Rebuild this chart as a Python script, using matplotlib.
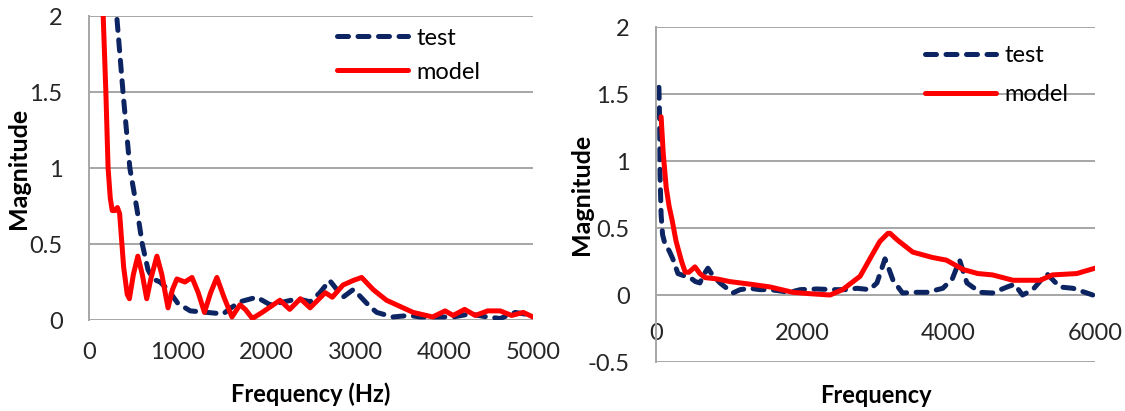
import matplotlib
matplotlib.use("Agg")
import matplotlib.pyplot as plt

# left panel: frequency (Hz) vs magnitude
left_test_f = [270, 383, 460, 540, 600, 665, 720, 800, 890, 1000, 1140, 1330, 1510, 1600,
               1700, 1890, 2040, 2200, 2350, 2490, 2600, 2710, 2860, 2975, 3030, 3160, 3240,
               3420, 3610, 3730, 3950, 4100, 4290, 4480, 4630, 4800, 5000]
left_test_m = [2.3, 1.5, 1.0, 0.73, 0.5, 0.33, 0.27, 0.25, 0.2, 0.11, 0.06, 0.05, 0.04, 0.08,
               0.12, 0.15, 0.1, 0.12, 0.14, 0.12, 0.18, 0.26, 0.15, 0.2, 0.17, 0.09, 0.05,
               0.02, 0.03, 0.02, 0.02, 0.02, 0.04, 0.02, 0.01, 0.05, 0.03]
left_model_f = [150, 160, 190, 215, 240, 262, 290, 320, 345, 390, 430, 455, 500, 550, 600,
                650, 700, 765, 820, 890, 940, 990, 1080, 1160, 1230, 1300, 1370, 1440, 1520,
                1610, 1700, 1760, 1840, 1950, 2050, 2150, 2260, 2380, 2490, 2660, 2740, 2860,
                2975, 3070, 3200, 3350, 3500, 3650, 3870, 4010, 4100, 4230, 4350, 4490, 4630,
                4760, 4890, 5000]
left_model_m = [2.3, 2.0, 1.5, 1.0, 0.8, 0.72, 0.72, 0.74, 0.7, 0.35, 0.17, 0.14, 0.3, 0.42,
                0.3, 0.14, 0.28, 0.42, 0.3, 0.08, 0.2, 0.27, 0.25, 0.28, 0.18, 0.05, 0.18,
                0.28, 0.15, 0.02, 0.1, 0.07, 0.01, 0.05, 0.09, 0.13, 0.07, 0.14, 0.08, 0.18,
                0.15, 0.23, 0.26, 0.28, 0.2, 0.13, 0.09, 0.05, 0.02, 0.06, 0.03, 0.07, 0.03,
                0.06, 0.06, 0.03, 0.05, 0.02]

# right panel
right_test_f = [40, 50, 55, 70, 90, 123, 180, 230, 300, 400, 465, 540, 600, 650, 710, 770,
                875, 1050, 1150, 1285, 1420, 1560, 1700, 1830, 1970, 2200, 2420, 2600, 2750,
                2920, 3020, 3130, 3180, 3240, 3370, 3550, 3700, 3920, 4050, 4150, 4250, 4430,
                4600, 4800, 4900, 5010, 5150, 5340, 5520, 5700, 5970]
right_test_m = [1.55, 1.3, 0.9, 0.6, 0.45, 0.38, 0.33, 0.27, 0.16, 0.14, 0.13, 0.1, 0.09,
                0.15, 0.2, 0.15, 0.09, 0.015, 0.04, 0.05, 0.04, 0.04, 0.03, 0.02, 0.04, 0.045,
                0.04, 0.04, 0.05, 0.04, 0.09, 0.27, 0.2, 0.11, 0.015, 0.02, 0.02, 0.05, 0.12,
                0.26, 0.09, 0.02, 0.015, 0.06, 0.08, 0.0, 0.04, 0.16, 0.06, 0.05, 0.0]
right_model_f = [70, 100, 140, 180, 220, 275, 350, 400, 450, 533, 600, 670, 833, 1010, 1300,
                 1560, 1870, 2100, 2380, 2550, 2790, 2965, 3060, 3170, 3200, 3300, 3510, 3780,
                 3970, 4200, 4400, 4600, 4880, 5250, 5420, 5750, 6000]
right_model_m = [1.33, 1.05, 0.8, 0.66, 0.56, 0.4, 0.25, 0.17, 0.17, 0.21, 0.16, 0.13, 0.12,
                 0.1, 0.08, 0.06, 0.02, 0.01, 0.0, 0.04, 0.14, 0.31, 0.4, 0.46, 0.46, 0.41,
                 0.32, 0.28, 0.26, 0.19, 0.16, 0.15, 0.11, 0.11, 0.15, 0.16, 0.2]

NAVY = "#0c2461"
RED = "#ff0000"
GRID = "#a6a6a6"
TXT = "#262626"

plt.rcParams["font.family"] = ["Lato", "DejaVu Sans"]

fig = plt.figure(figsize=(11.25, 4.11), dpi=100)
ax1 = fig.add_axes([0.0791, 0.2214, 0.3947, 0.7396])
ax2 = fig.add_axes([0.5831, 0.1192, 0.3902, 0.8151])


def style(ax, ylo, yhi, yticks, xmax, xticks, xpad):
    ax.set_xlim(0, xmax)
    ax.set_ylim(ylo, yhi)
    ax.set_yticks(yticks)
    ax.set_yticklabels([f"{t:g}" for t in yticks])
    ax.set_xticks(xticks)
    ax.set_xticklabels([str(t) for t in xticks])
    for y in yticks:
        ax.axhline(y, color=GRID, lw=1.4, zorder=0)
    for s in ["top", "right"]:
        ax.spines[s].set_visible(False)
    ax.spines["left"].set_color(GRID)
    ax.spines["left"].set_linewidth(1.4)
    ax.spines["bottom"].set_visible(False)
    ax.tick_params(length=0, labelsize=17, labelcolor=TXT)
    ax.tick_params(axis="y", pad=19)
    ax.tick_params(axis="x", pad=xpad)


line_kw_test = dict(color=NAVY, lw=3.6, ls=(0, (2.2, 1.9)), dash_capstyle="round", label="test")
line_kw_model = dict(color=RED, lw=3.6, solid_capstyle="round", label="model")
leg_kw = dict(loc="upper left", frameon=False, fontsize=17, handlelength=3.0,
              handletextpad=0.35, borderaxespad=0, borderpad=0)

# left
ax1.plot(left_test_f, left_test_m, **line_kw_test)
ax1.plot(left_model_f, left_model_m, **line_kw_model)
style(ax1, 0, 2, [0, 0.5, 1, 1.5, 2], 5000, [0, 1000, 2000, 3000, 4000, 5000], 16)
ax1.set_xlabel("Frequency (Hz)", fontsize=17, fontweight="bold", color="black")
ax1.set_ylabel("Magnitude", fontsize=18, fontweight="bold", color="black")
ax1.xaxis.set_label_coords(0.5, -0.205)
ax1.yaxis.set_label_coords(-0.133, 0.5)
ax1.legend(bbox_to_anchor=(0.559, 0.962), labelspacing=0.55, **leg_kw)

# right
ax2.plot(right_test_f, right_test_m, **line_kw_test)
ax2.plot(right_model_f, right_model_m, **line_kw_model)
style(ax2, -0.5, 2, [-0.5, 0, 0.5, 1, 1.5, 2], 6000, [0, 2000, 4000, 6000], 20)
ax2.spines["bottom"].set_position(("data", 0))
ax2.set_xlabel("Frequency", fontsize=17, fontweight="bold", color="black")
ax2.set_ylabel("Magnitude", fontsize=18, fontweight="bold", color="black")
ax2.xaxis.set_label_coords(0.5, -0.067)
ax2.yaxis.set_label_coords(-0.1435, 0.5)
ax2.legend(bbox_to_anchor=(0.613, 0.945), labelspacing=0.75, **leg_kw)

fig.savefig("out.png", dpi=100)
